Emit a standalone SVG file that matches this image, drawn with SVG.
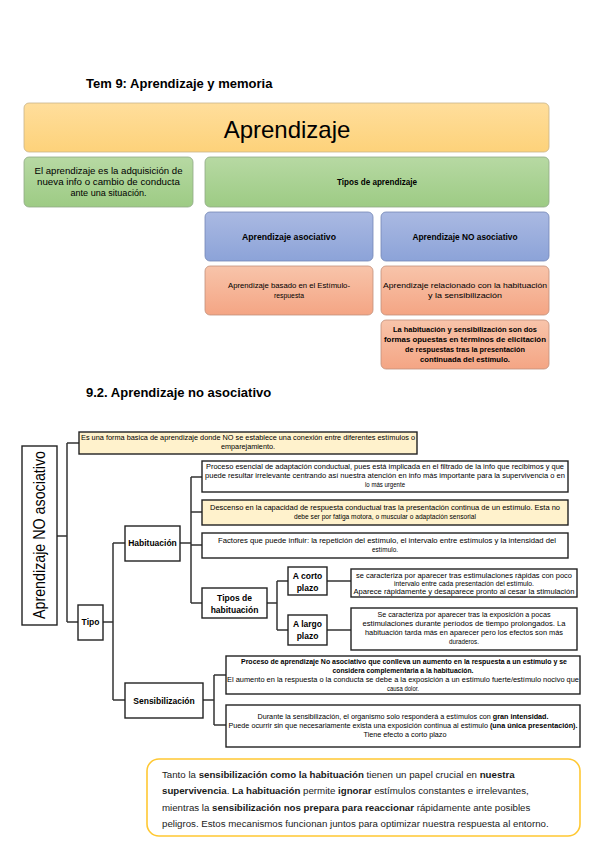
<svg xmlns="http://www.w3.org/2000/svg" width="599" height="848" viewBox="0 0 599 848">
<defs>
<linearGradient id="gOr" x1="0" y1="0" x2="0" y2="1"><stop offset="0" stop-color="#FFDE9C"/><stop offset="1" stop-color="#FDD27A"/></linearGradient>
<linearGradient id="gGr" x1="0" y1="0" x2="0" y2="1"><stop offset="0" stop-color="#B7D9A3"/><stop offset="1" stop-color="#9DCB84"/></linearGradient>
<linearGradient id="gBl" x1="0" y1="0" x2="0" y2="1"><stop offset="0" stop-color="#AAB9E2"/><stop offset="1" stop-color="#8CA3D8"/></linearGradient>
<linearGradient id="gSa" x1="0" y1="0" x2="0" y2="1"><stop offset="0" stop-color="#F8C4AA"/><stop offset="1" stop-color="#F4A584"/></linearGradient>
</defs>
<style>
text{font-family:"Liberation Sans",Arial,sans-serif;fill:#000}
.h{font-weight:bold;font-size:13px}
.t{font-size:8.5px;text-anchor:middle}
.b{font-weight:bold}
.s{font-size:6.6px;text-anchor:middle}
.l{font-size:8.5px;font-weight:bold;text-anchor:middle}
.box{fill:#fff;stroke:#222;stroke-width:1.4}
.ybox{fill:#FFF2CC;stroke:#222;stroke-width:1.4}
.rOr{fill:url(#gOr);stroke:#C8B48A;stroke-width:0.8}
.rGr{fill:url(#gGr);stroke:#8FA887;stroke-width:0.8}
.rBl{fill:url(#gBl);stroke:#7487B5;stroke-width:0.8}
.rSa{fill:url(#gSa);stroke:#C0907C;stroke-width:0.8}
.conn{fill:none;stroke:#333;stroke-width:1.5}
.f{font-size:9.7px;fill:#1a1a1a}
</style>
<rect width="599" height="848" fill="#fff"/>

<text class="h" x="86" y="88">Tem 9: Aprendizaje y memoria</text>

<g id="aprendizaje">
<rect class="rOr" x="24" y="103" width="525" height="49" rx="5"/>
<text x="287" y="138" font-size="24" text-anchor="middle">Aprendizaje</text>
</g>
<g id="definicion">
<rect class="rGr" x="24" y="157" width="169" height="50" rx="5"/>
<text class="t" x="108.5" y="174" textLength="148" lengthAdjust="spacingAndGlyphs">El aprendizaje es la adquisición de</text>
<text class="t" x="108.5" y="185" textLength="143" lengthAdjust="spacingAndGlyphs">nueva info o cambio de conducta</text>
<text class="t" x="108.5" y="196" textLength="76" lengthAdjust="spacingAndGlyphs">ante una situación.</text>
</g>
<g id="tipos-aprendizaje">
<rect class="rGr" x="205" y="157" width="344" height="50" rx="5"/>
<text class="t b" x="377" y="185" textLength="80" lengthAdjust="spacingAndGlyphs">Tipos de aprendizaje</text>
</g>
<g id="asociativo">
<rect class="rBl" x="205" y="212" width="168" height="49" rx="5"/>
<text class="t b" x="289" y="240" textLength="94" lengthAdjust="spacingAndGlyphs">Aprendizaje asociativo</text>
</g>
<g id="no-asociativo">
<rect class="rBl" x="381" y="212" width="168" height="49" rx="5"/>
<text class="t b" x="465" y="240" textLength="105" lengthAdjust="spacingAndGlyphs">Aprendizaje NO asociativo</text>
</g>
<g id="asociativo-desc">
<rect class="rSa" x="205" y="266" width="168" height="49" rx="5"/>
<text class="s" x="289" y="288" font-size="7.2" textLength="122" lengthAdjust="spacingAndGlyphs">Aprendizaje basado en el Estímulo-</text>
<text class="s" x="289" y="298" font-size="7.2" textLength="30" lengthAdjust="spacingAndGlyphs">respuesta</text>
</g>
<g id="no-asociativo-desc">
<rect class="rSa" x="381" y="266" width="168" height="49" rx="5"/>
<text class="s" x="465" y="288" font-size="7.2" textLength="164" lengthAdjust="spacingAndGlyphs">Aprendizaje relacionado con la habituación</text>
<text class="s" x="465" y="298" font-size="7.2" textLength="74" lengthAdjust="spacingAndGlyphs">y la sensibilización</text>
</g>
<g id="no-asociativo-desc2">
<rect class="rSa" x="381" y="320" width="168" height="49" rx="5"/>
<text class="s b" x="465" y="332" font-size="7.2" textLength="144" lengthAdjust="spacingAndGlyphs">La habituación y sensibilización son dos</text>
<text class="s b" x="465" y="342" font-size="7.2" textLength="162" lengthAdjust="spacingAndGlyphs">formas opuestas en términos de elicitación</text>
<text class="s b" x="465" y="352" font-size="7.2" textLength="120" lengthAdjust="spacingAndGlyphs">de respuestas tras la presentación</text>
<text class="s b" x="465" y="362" font-size="7.2" textLength="90" lengthAdjust="spacingAndGlyphs">continuada del estímulo.</text>
</g>

<text class="h" x="86" y="397">9.2. Aprendizaje no asociativo</text>

<g id="connectors">
<path class="conn" d="M57,536H67M67,443V622M67,443H79M67,622H78"/>
<path class="conn" d="M103,622H113M113,543V700M113,543H125M113,700H125"/>
<path class="conn" d="M180,543H191M191,477V603M191,477H202M191,512H202M191,545H202M191,603H202"/>
<path class="conn" d="M267,603H277M277,581V630M277,581H288M277,630H288"/>
<path class="conn" d="M327,581H351M327,630H351"/>
<path class="conn" d="M203,700H214M214,675V725M214,675H226M214,725H226"/>
</g>

<g id="root">
<rect class="box" x="22" y="446" width="35" height="179"/>
<text x="39" y="535" font-size="17" text-anchor="middle" transform="rotate(-90 39 535) translate(0 6)" textLength="168" lengthAdjust="spacingAndGlyphs">Aprendizaje NO asociativo</text>
</g>
<g id="definicion-no-asoc">
<rect class="ybox" x="79" y="432" width="338" height="22"/>
<text class="s" x="248" y="440" textLength="334" lengthAdjust="spacingAndGlyphs">Es una forma basica de aprendizaje donde NO se establece una conexión entre diferentes estímulos o</text>
<text class="s" x="248" y="449" textLength="54" lengthAdjust="spacingAndGlyphs">emparejamiento.</text>
</g>
<g id="tipo">
<rect class="box" x="78" y="605" width="25" height="35"/>
<text class="l" x="90.5" y="625">Tipo</text>
</g>
<g id="habituacion">
<rect class="box" x="125" y="526" width="55" height="35"/>
<text class="l" x="152.5" y="546">Habituación</text>
</g>
<g id="hab-proceso">
<rect class="box" x="202" y="461" width="366" height="31"/>
<text class="s" x="385" y="469" textLength="358" lengthAdjust="spacingAndGlyphs">Proceso esencial de adaptación conductual, pues está implicada en el filtrado de la info que recibimos y que</text>
<text class="s" x="385" y="478" textLength="360" lengthAdjust="spacingAndGlyphs">puede resultar irrelevante centrando así nuestra atención en info más importante para la supervivencia o en</text>
<text class="s" x="385" y="487" textLength="40" lengthAdjust="spacingAndGlyphs">lo más urgente</text>
</g>
<g id="hab-descenso">
<rect class="ybox" x="202" y="500" width="366" height="25"/>
<text class="s" x="385" y="510" textLength="350" lengthAdjust="spacingAndGlyphs">Descenso en la capacidad de respuesta conductual tras la presentación continua de un estímulo. Esta no</text>
<text class="s" x="385" y="519" textLength="182" lengthAdjust="spacingAndGlyphs">debe ser por fatiga motora, o muscular o adaptación sensorial</text>
</g>
<g id="hab-factores">
<rect class="box" x="202" y="533" width="366" height="25"/>
<text class="s" x="387" y="543" textLength="338" lengthAdjust="spacingAndGlyphs">Factores que puede influir: la repetición del estímulo, el intervalo entre estímulos y la intensidad del</text>
<text class="s" x="385" y="552" textLength="26" lengthAdjust="spacingAndGlyphs">estímulo.</text>
</g>
<g id="tipos-habituacion">
<rect class="box" x="202" y="588" width="65" height="30"/>
<text class="l" x="234.5" y="601">Tipos de</text>
<text class="l" x="234.5" y="613">habituación</text>
</g>
<g id="corto-plazo">
<rect class="box" x="288" y="567" width="39" height="28"/>
<text class="l" x="307.5" y="579">A corto</text>
<text class="l" x="307.5" y="591">plazo</text>
</g>
<g id="largo-plazo">
<rect class="box" x="288" y="615" width="39" height="30"/>
<text class="l" x="307.5" y="627">A largo</text>
<text class="l" x="307.5" y="639">plazo</text>
</g>
<g id="corto-desc">
<rect class="box" x="351" y="569" width="226" height="28"/>
<text class="s" x="464" y="578" textLength="216" lengthAdjust="spacingAndGlyphs">se caracteriza por aparecer tras estimulaciones rápidas con poco</text>
<text class="s" x="464" y="586" textLength="140" lengthAdjust="spacingAndGlyphs">intervalo entre cada presentación del estímulo.</text>
<text class="s" x="464" y="594" textLength="221" lengthAdjust="spacingAndGlyphs">Aparece rápidamente y desaparece pronto al cesar la stimulación</text>
</g>
<g id="largo-desc">
<rect class="box" x="351" y="608" width="226" height="42"/>
<text class="s" x="464" y="617" textLength="173" lengthAdjust="spacingAndGlyphs">Se caracteriza por aparecer tras la exposición a pocas</text>
<text class="s" x="464" y="626" textLength="203" lengthAdjust="spacingAndGlyphs">estimulaciones durante períodos de tiempo prolongados. La</text>
<text class="s" x="464" y="635" textLength="198" lengthAdjust="spacingAndGlyphs">habituación tarda más en aparecer pero los efectos son más</text>
<text class="s" x="464" y="644" textLength="30" lengthAdjust="spacingAndGlyphs">duraderos.</text>
</g>
<g id="sensibilizacion">
<rect class="box" x="125" y="683" width="78" height="35"/>
<text class="l" x="164" y="704">Sensibilización</text>
</g>
<g id="sens-proceso">
<rect class="box" x="226" y="656" width="354" height="38"/>
<text class="s b" x="404" y="664" textLength="326" lengthAdjust="spacingAndGlyphs">Proceso de aprendizaje No asociativo que conlleva un aumento en la respuesta a un estímulo y se</text>
<text class="s b" x="403" y="673" textLength="141" lengthAdjust="spacingAndGlyphs">considera complementaria a la habituación.</text>
<text class="s" x="403" y="682" textLength="352" lengthAdjust="spacingAndGlyphs">El aumento en la respuesta o la conducta se debe a la exposición a un estímulo fuerte/estímulo nocivo que</text>
<text class="s" x="403" y="691" textLength="32" lengthAdjust="spacingAndGlyphs">causa dolor.</text>
</g>
<g id="sens-durante">
<rect class="box" x="226" y="705" width="354" height="42"/>
<text class="s" x="403" y="719" textLength="291" lengthAdjust="spacingAndGlyphs">Durante la sensibilización, el organismo solo responderá a estímulos con <tspan class="b">gran intensidad.</tspan></text>
<text class="s" x="403" y="728" textLength="349" lengthAdjust="spacingAndGlyphs">Puede ocurrir sin que necesariamente exista una exposición continua al estímulo <tspan class="b">(una única presentación).</tspan></text>
<text class="s" x="405" y="737" textLength="83" lengthAdjust="spacingAndGlyphs">Tiene efecto a corto plazo</text>
</g>

<g id="conclusion">
<rect x="147" y="759" width="433" height="77" rx="12" fill="#fff" stroke="#FFC832" stroke-width="1.6"/>
<text class="f" x="162" y="778">Tanto la <tspan class="b">sensibilización como la habituación</tspan> tienen un papel crucial en <tspan class="b">nuestra</tspan></text>
<text class="f" x="162" y="794"><tspan class="b">supervivencia</tspan>. <tspan class="b">La habituación</tspan> permite <tspan class="b">ignorar</tspan> estímulos constantes e irrelevantes,</text>
<text class="f" x="162" y="811">mientras la <tspan class="b">sensibilización nos prepara para reaccionar</tspan> rápidamente ante posibles</text>
<text class="f" x="162" y="827">peligros. Estos mecanismos funcionan juntos para optimizar nuestra respuesta al entorno.</text>
</g>
</svg>
